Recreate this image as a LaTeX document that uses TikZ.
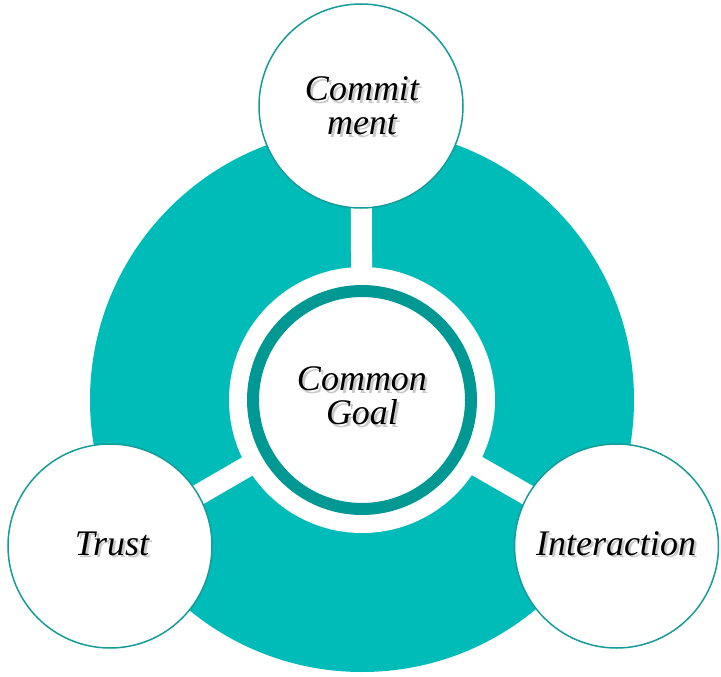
\documentclass[tikz,border=0pt]{standalone}
\usepackage{fontspec}
\setmainfont{Liberation Serif}
\definecolor{tealmain}{RGB}{0,188,184}
\definecolor{tealring}{RGB}{0,152,147}
\definecolor{tealedge}{RGB}{22,156,152}
\begin{document}
\begin{tikzpicture}[x=1pt,y=-1pt,
  spoke/.style={draw=white,line width=21pt},
  satellite/.style={circle,fill=white,draw=tealedge,line width=1.5pt,minimum size=204pt,inner sep=0pt},
  lbl/.style={font=\fontsize{36}{34}\selectfont\itshape,align=center,inner sep=0pt,text=black},
  shd/.style={lbl,text=black!35,opacity=0.6}]
\useasboundingbox (0,0) rectangle (721,677);
% big teal disc
\fill[tealmain] (362,400) circle[radius=272];
\coordinate (c) at (362,400);
\coordinate (ct) at (361,106);
\coordinate (cl) at (110,546);
\coordinate (cr) at (616.5,546);
% white spokes
\draw[spoke] (c) -- (ct);
\draw[spoke] (c) -- (cl);
\draw[spoke] (c) -- (cr);
% central white disc and ring
\fill[white] (c) circle[radius=133];
\draw[tealring,line width=12pt] (c) circle[radius=109];
% satellites
\node[satellite] (top) at (ct) {};
\node[satellite] (left) at (cl) {};
\node[satellite] (right) at (cr) {};
% text shadows
\node[shd] (scommit) at (364.5,108.5) {Commit\\ment};
\node[shd] (sgoal) at (364.5,398.5) {Common\\Goal};
\node[shd,anchor=base] (strust) at (114.5,557.5) {Trust};
\node[shd,anchor=base] (sinter) at (618.5,557.5) {Interaction};
% labels
\node[lbl] (tcommit) at (362,106) {Commit\\ment};
\node[lbl] (tgoal) at (362,396) {Common\\Goal};
\node[lbl,anchor=base] (ttrust) at (112,555) {Trust};
\node[lbl,anchor=base] (tinter) at (616,555) {Interaction};
\end{tikzpicture}
\end{document}
